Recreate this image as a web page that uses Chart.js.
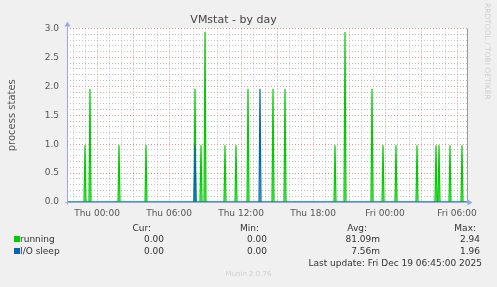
<!DOCTYPE html>
<html>
<head>
<meta charset="utf-8">
<title>VMstat - by day</title>
<script src="https://cdn.jsdelivr.net/npm/chart.js@4.4.1/dist/chart.umd.min.js"></script>
<style>
  body { margin: 0; background: #f0f0f0; font-family: "DejaVu Sans", sans-serif; }
  #wrap { position: relative; width: 497px; height: 287px; overflow: hidden; }
  #wrap canvas { position: absolute; left: 0; top: 0; }
  .t { position: absolute; font-size: 9px; line-height: 11px; color: #333; white-space: nowrap; }
  .sw { position: absolute; width: 6px; height: 6px; }
  #rrd { position: absolute; left: 481px; top: 3px; font-size: 7.5px; color: #d0d0d0; white-space: nowrap;
         transform-origin: 0 0; transform: translate(11px, 0) rotate(90deg); }
  #ver { position: absolute; left: 0; width: 497px; top: 270px; text-align: center; font-size: 7px; color: #d0d0d0; }
</style>
</head>
<body>
<div id="wrap">
  <canvas id="chart" width="497" height="287"></canvas>
  <div id="legend"></div>
  <div id="rrd">RRDTOOL / TOBI OETIKER</div>
  <div id="ver">Munin 2.0.76</div>
</div>
<script>
// visible window and axis labels
const windowStart = "Wed 21:30";
const windowEnd = "Fri 06:50";
const xLabels = ["Thu 00:00", "Thu 06:00", "Thu 12:00", "Thu 18:00", "Fri 00:00", "Fri 06:00"];
const yLabels = ["0.0", "0.5", "1.0", "1.5", "2.0", "2.5", "3.0"];

// 5-minute samples that are not zero
const runningTimes = ["Wed 23:00", "Wed 23:25", "Thu 01:50", "Thu 04:05", "Thu 08:10", "Thu 08:40", "Thu 09:00",
  "Thu 10:40", "Thu 11:35", "Thu 12:35", "Thu 14:40", "Thu 15:40", "Thu 19:50", "Thu 20:40", "Thu 22:55",
  "Thu 23:50", "Fri 00:55", "Fri 02:40", "Fri 04:15", "Fri 04:30", "Fri 05:25", "Fri 06:25"];
const runningValues = [0.98, 1.96, 0.98, 0.98, 1.96, 0.98, 2.94, 0.98, 0.98, 1.96, 1.96, 1.96, 0.98, 2.94, 1.96,
  0.98, 0.98, 0.98, 0.98, 0.98, 0.98, 0.98];
const ioSleepTimes = ["Thu 08:10", "Thu 13:35"];
const ioSleepValues = [0.98, 1.96];

// legend table
const seriesNames = ["running", "I/O sleep"];
const seriesColors = ["#00cc00", "#0066b3"];
const curValues = ["0.00", "0.00"];
const minValues = ["0.00", "0.00"];
const avgValues = ["81.09m", "7.56m"];
const maxValues = ["2.94", "1.96"];
const lastUpdate = "Last update: Fri Dec 19 06:45:00 2025";

const STEP = 5;
const dayOffset = { Wed: -1440, Thu: 0, Fri: 1440 };
function toMin(s) {
  const [d, hm] = s.split(" ");
  const [h, m] = hm.split(":").map(Number);
  return dayOffset[d] + h * 60 + m;
}

function spikes(times, values) {
  const pts = [{ x: toMin(windowStart), y: 0 }];
  times.forEach((t, i) => {
    const m = toMin(t);
    pts.push({ x: m - STEP, y: 0 }, { x: m, y: values[i] }, { x: m + STEP, y: 0 });
  });
  pts.push({ x: toMin(windowEnd), y: 0 });
  return pts;
}

function fade(color) {
  return (c) => {
    const a = c.chart.chartArea;
    if (!a) return color;
    const g = c.chart.ctx.createLinearGradient(0, a.top, 0, a.bottom);
    g.addColorStop(0, color + "ee");
    g.addColorStop(1, color + "66");
    return g;
  };
}

const xLabelAt = {};
xLabels.forEach(l => { xLabelAt[toMin(l)] = l; });
const red = "rgba(230,120,120,0.8)";
const grey = "rgba(170,170,170,0.7)";
const axisColor = "#9aa6e6";

const frame = {
  id: "frame",
  beforeDraw(chart) {
    const { ctx, chartArea: a } = chart;
    ctx.save();
    ctx.fillStyle = "#fff";
    ctx.fillRect(a.left, a.top, a.right - a.left, a.bottom - a.top);
    ctx.restore();
  },
  afterDatasetsDraw(chart) {
    const { ctx, chartArea: a } = chart;
    const x0 = Math.round(a.left) + 0.5, y0 = Math.round(a.bottom) + 0.5, xr = Math.round(a.right) + 0.5;
    ctx.save();
    ctx.lineWidth = 1;
    ctx.strokeStyle = "#9a9a9a";
    ctx.beginPath(); ctx.moveTo(xr, a.top); ctx.lineTo(xr, a.bottom); ctx.stroke();
    ctx.strokeStyle = axisColor;
    ctx.fillStyle = axisColor;
    ctx.beginPath();
    ctx.moveTo(x0 - 2, y0); ctx.lineTo(xr + 1, y0);
    ctx.moveTo(x0, y0 + 2); ctx.lineTo(x0, a.top - 2);
    ctx.stroke();
    ctx.beginPath(); ctx.moveTo(xr + 5, y0); ctx.lineTo(xr, y0 - 3); ctx.lineTo(xr, y0 + 3); ctx.closePath(); ctx.fill();
    ctx.beginPath(); ctx.moveTo(x0, a.top - 7); ctx.lineTo(x0 - 3, a.top - 2); ctx.lineTo(x0 + 3, a.top - 2); ctx.closePath(); ctx.fill();
    ctx.restore();
  }
};

new Chart(document.getElementById("chart"), {
  type: "line",
  data: {
    datasets: [
      { label: seriesNames[0], data: spikes(runningTimes, runningValues), borderColor: seriesColors[0],
        backgroundColor: fade(seriesColors[0]), fill: "origin", order: 2 },
      { label: seriesNames[1], data: spikes(ioSleepTimes, ioSleepValues), borderColor: seriesColors[1],
        backgroundColor: fade(seriesColors[1]), fill: "origin", order: 1 }
    ]
  },
  options: {
    responsive: false,
    animation: false,
    events: [],
    elements: { point: { radius: 0 }, line: { borderWidth: 1.2, tension: 0 } },
    layout: { padding: { left: 0, right: 30, top: 0, bottom: 65 } },
    plugins: {
      legend: { display: false },
      tooltip: { enabled: false },
      title: { display: true, text: "VMstat - by day", color: "#444",
        font: { family: "DejaVu Sans", size: 11, weight: "normal" }, padding: { top: 14, bottom: 1.3 } }
    },
    scales: {
      x: {
        type: "linear",
        min: toMin(windowStart),
        max: toMin(windowEnd),
        afterBuildTicks: s => {
          const t = [];
          for (let v = Math.ceil(s.min / 60) * 60; v <= s.max; v += 60) t.push({ value: v });
          s.ticks = t;
        },
        afterFit: s => { s.height = 20; },
        ticks: { autoSkip: false, maxRotation: 0, padding: 6, color: "#555",
          font: { family: "DejaVu Sans", size: 9 }, callback: v => xLabelAt[v] || "" },
        grid: { drawTicks: false, lineWidth: 1, color: c => (c.tick && c.tick.value % 180 === 0 ? red : grey) },
        border: { display: false, dash: [1, 2] }
      },
      y: {
        min: 0,
        max: 3,
        afterBuildTicks: s => {
          const t = [];
          for (let i = 0; i <= 30; i++) t.push({ value: i / 10 });
          s.ticks = t;
        },
        afterFit: s => { s.width = 67; },
        ticks: { autoSkip: false, padding: 8, color: "#555", font: { family: "DejaVu Sans", size: 9 },
          callback: v => (Math.round(v * 10) % 5 === 0 ? yLabels[Math.round(v * 2)] : "") },
        grid: { drawTicks: false, lineWidth: 1, color: c => (c.tick && Math.round(c.tick.value * 10) % 5 === 0 ? red : grey) },
        border: { display: false, dash: [1, 2] },
        title: { display: true, text: "process states", color: "#555",
          font: { family: "DejaVu Sans", size: 10 }, padding: { top: 6, bottom: 0 } }
      }
    }
  },
  plugins: [frame]
});

// munin style legend table
const legend = document.getElementById("legend");
function put(text, right, center, left) {
  const d = document.createElement("div");
  d.className = "t";
  d.textContent = text;
  if (left !== undefined) d.style.left = left + "px";
  else d.style.right = (497 - right) + "px";
  d.style.top = (center - 5.5) + "px";
  legend.appendChild(d);
}
put("Cur:", 151, 228);
put("Min:", 259, 228);
put("Avg:", 367, 228);
put("Max:", 476, 228);
const rowY = [239, 251];
seriesNames.forEach((n, i) => {
  const sw = document.createElement("div");
  sw.className = "sw";
  sw.style.left = "14px";
  sw.style.top = (rowY[i] - 3) + "px";
  sw.style.background = seriesColors[i];
  legend.appendChild(sw);
  put(n, 0, rowY[i], 20);
  put(curValues[i], 164, rowY[i]);
  put(minValues[i], 267, rowY[i]);
  put(avgValues[i], 380, rowY[i]);
  put(maxValues[i], 480, rowY[i]);
});
put(lastUpdate, 482, 263);
</script>
</body>
</html>
